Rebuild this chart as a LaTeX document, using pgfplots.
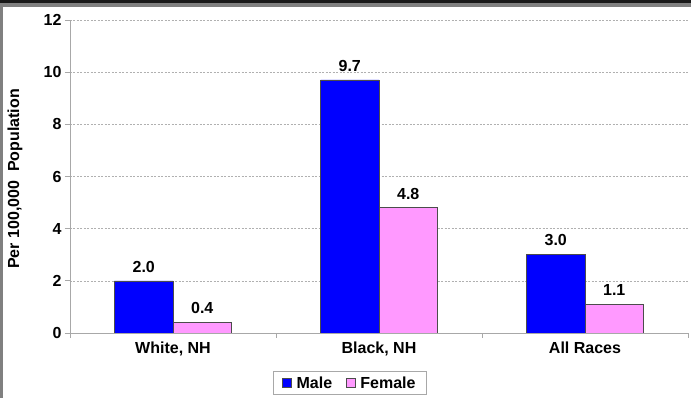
\documentclass[border=0pt]{standalone}
\usepackage{pgfplots}
\pgfplotsset{compat=1.18}
\usepackage{fontspec}
\setmainfont{Liberation Sans}
\definecolor{maleblue}{HTML}{0000FF}
\definecolor{femalepink}{HTML}{FF99FF}
\definecolor{axgray}{HTML}{A8A8A8}
\definecolor{gridgray}{HTML}{B0B0B0}
\begin{document}
\begin{tikzpicture}[x=1pt,y=1pt]
\useasboundingbox (-70,-65) rectangle (621,333);
\fill[white] (-70,-65) rectangle (621,333);
\fill[black!90] (-70,330) rectangle (621,333);
\fill[gray] (-70,326) rectangle (621,330);
\fill[gray] (-70,-65) rectangle (-67,326);
\begin{axis}[
  at={(0,0)}, anchor=south west,
  scale only axis, width=618pt, height=313pt,
  xmin=-0.5, xmax=2.5, ymin=0, ymax=12,
  axis x line*=bottom, axis y line*=left,
  axis line style={draw=axgray, line width=0.8pt},
  ybar, bar width=58.5pt,
  xtick={0,1,2},
  xticklabels={{White, NH},{Black, NH},{All Races}},
  xtick style={draw=none},
  extra x ticks={-0.5,0.5,1.5,2.5},
  extra x tick labels={},
  extra x tick style={xtick style={draw=axgray, line width=0.8pt}},
  ytick={0,2,4,6,8,10,12},
  ytick style={draw=axgray, line width=0.8pt},
  tick align=outside, major tick length=5pt,
  ymajorgrids,
  grid style={draw=gridgray, dash pattern=on 2pt off 1.5pt, line width=0.6pt},
  tick label style={font=\fontsize{16}{18}\selectfont\bfseries},
  /pgf/number format/assume math mode=true,
  nodes near coords={\pgfmathprintnumber[fixed,fixed zerofill,precision=1]{\pgfplotspointmeta}},
  nodes near coords style={font=\fontsize{16}{18}\selectfont\bfseries, black, yshift=5pt},
  legend columns=2,
  legend style={at={(0.453,-0.16)}, anchor=center, draw=axgray, line width=0.8pt,
    font=\fontsize{16}{18}\selectfont\bfseries, inner xsep=9pt, inner ysep=3pt,
    /tikz/every even column/.append style={column sep=12pt}},
]
\addplot[fill=maleblue, draw=black!70, line width=0.6pt, bar shift=-29.25pt,
  legend image code/.code={\draw[fill=maleblue, draw=black!70] (0pt,-4.5pt) rectangle (9pt,4.5pt);}]
  coordinates {(0,2.0) (1,9.7) (2,3.0)};
\addlegendentry{\,Male}
\addplot[fill=femalepink, draw=black!70, line width=0.6pt, bar shift=29.25pt,
  legend image code/.code={\draw[fill=femalepink, draw=black!70] (0pt,-4.5pt) rectangle (9pt,4.5pt);}]
  coordinates {(0,0.4) (1,4.8) (2,1.1)};
\addlegendentry{\,Female}
\end{axis}
\node[rotate=90, font=\fontsize{16}{18}\selectfont\bfseries] at (-55,154) {Per 100,000\ \ Population};
\end{tikzpicture}
\end{document}
